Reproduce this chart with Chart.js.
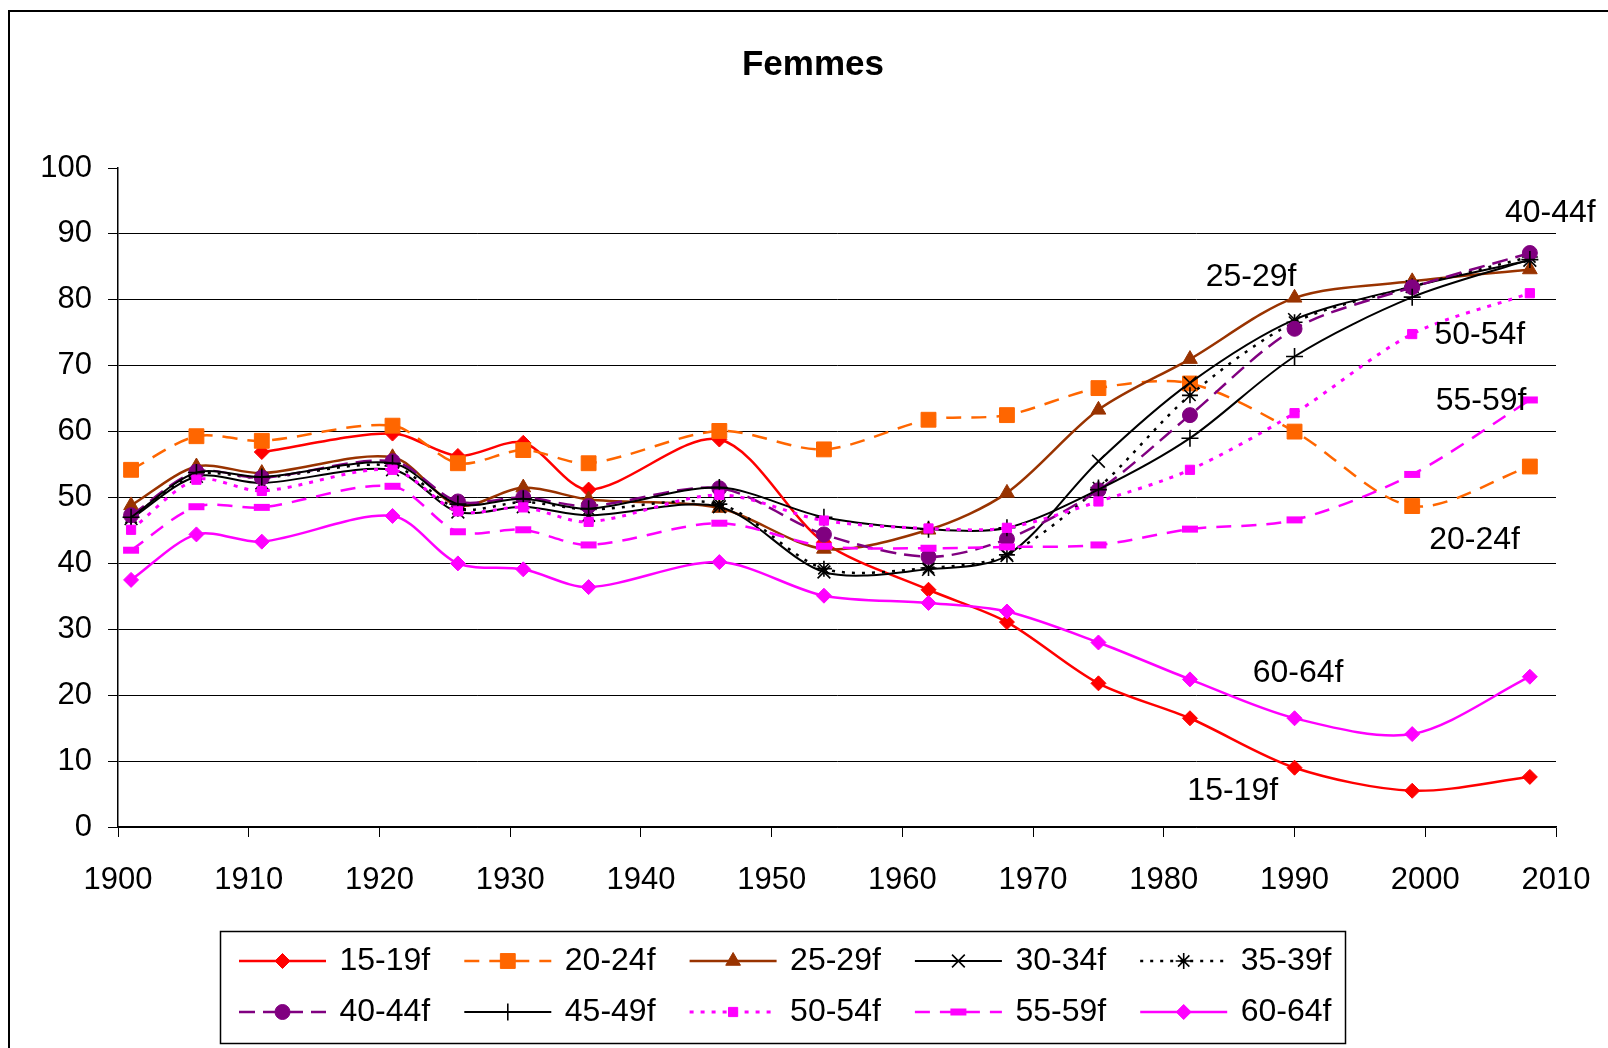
<!DOCTYPE html>
<html>
<head>
<meta charset="utf-8">
<script src="https://cdn.jsdelivr.net/npm/chart.js@4/dist/chart.umd.min.js"></script>
<style>
html,body{margin:0;padding:0;background:#fff;}
#wrap{position:relative;width:1608px;height:1048px;overflow:hidden;}
canvas{display:block;}
</style>
</head>
<body>
<div id="wrap"><canvas id="c" width="1608" height="1048"></canvas></div>
<script>
// ---- data ----
const years = [1901,1906,1911,1921,1926,1931,1936,1946,1954,1962,1968,1975,1982,1990,1999,2008];
const seriesNames = ['15-19f','20-24f','25-29f','30-34f','35-39f','40-44f','45-49f','50-54f','55-59f','60-64f'];
const f15_19 = [null,null,56.9,59.7,56.3,58.3,51.2,58.8,43.2,36.0,31.1,21.8,16.5,9.0,5.5,7.6];
const f20_24 = [54.2,59.3,58.6,60.9,55.2,57.2,55.2,60.1,57.3,61.8,62.5,66.6,67.3,60.0,48.7,54.7];
const f25_29 = [48.8,54.7,53.7,56.1,48.8,51.5,49.7,48.4,42.2,45.1,50.7,63.3,71.0,80.3,82.8,84.6];
const f30_34 = [46.8,53.2,52.2,54.2,47.8,48.6,47.3,48.6,38.7,39.1,41.2,55.5,67.4,77.0,82.0,86.0];
const f35_39 = [47.0,53.5,53.0,54.8,48.3,49.3,48.2,49.0,39.2,39.3,41.3,51.5,65.5,76.6,82.0,86.5];
const f40_44 = [47.3,53.9,53.0,55.5,49.4,50.0,48.7,51.4,44.4,41.0,43.7,51.1,62.5,75.6,81.9,87.1];
const f45_49 = [47.0,53.8,53.1,55.2,49.0,49.8,48.3,51.5,47.0,45.2,45.4,51.2,59.0,71.4,80.4,86.1];
const f50_54 = [45.1,52.7,51.0,54.2,47.9,48.5,46.3,50.4,46.5,45.3,45.4,49.4,54.2,62.8,74.8,81.0];
const f55_59 = [42.0,48.6,48.5,51.7,44.8,45.1,42.8,46.1,42.6,42.3,42.5,42.8,45.2,46.6,53.5,64.8];
const f60_64 = [37.5,44.4,43.3,47.2,40.0,39.1,36.4,40.2,35.1,34.0,32.7,28.0,22.4,16.5,14.1,22.8];
const xTickValues = [1900,1910,1920,1930,1940,1950,1960,1970,1980,1990,2000,2010];
const yTickValues = [0,10,20,30,40,50,60,70,80,90,100];
const titleText = 'Femmes';

// ---- styles ----
const FONT = '"Liberation Sans", Arial, sans-serif';
const styles = [
  {color:'#FF0000', width:2.5, dash:[], point:'rectRot', r:7.5, pbw:1, fill:'#FF0000'},
  {color:'#FF6600', width:2.5, dash:[15,10], point:'rect', r:10.5, pbw:1, fill:'#FF6600'},
  {color:'#993300', width:2.5, dash:[], point:'triangle', r:8.5, pbw:1, fill:'#993300'},
  {color:'#000000', width:2, dash:[], point:'crossRot', r:9, pbw:1.6, fill:'#000000'},
  {color:'#000000', width:2.5, dash:[3,7], point:'star', r:8, pbw:1.6, fill:'#000000'},
  {color:'#800080', width:2.5, dash:[16,8], point:'circle', r:7.5, pbw:1, fill:'#800080'},
  {color:'#000000', width:2, dash:[], point:'cross', r:8.5, pbw:1.6, fill:'#000000'},
  {color:'#FF00FF', width:3, dash:[4,7], point:'rect', r:6.5, pbw:1, fill:'#FF00FF'},
  {color:'#FF00FF', width:2.5, dash:[15,10], point:'line', r:8, pbw:7, fill:'#FF00FF'},
  {color:'#FF00FF', width:2.5, dash:[], point:'rectRot', r:7.5, pbw:1, fill:'#FF00FF'}
];
const seriesValues = [f15_19,f20_24,f25_29,f30_34,f35_39,f40_44,f45_49,f50_54,f55_59,f60_64];

const datasets = seriesNames.map((name, i) => {
  const s = styles[i];
  return {
    label: name,
    data: years.map((yr, k) => ({x: yr, y: seriesValues[i][k]})),
    borderColor: s.color,
    backgroundColor: s.fill,
    borderWidth: s.width,
    borderDash: s.dash,
    pointStyle: s.point,
    pointRadius: s.r,
    pointBorderWidth: s.pbw,
    pointBorderColor: s.color,
    pointBackgroundColor: s.fill,
    tension: 0.3,
    spanGaps: false,
    order: -i,
    fill: false
  };
});

// in-plot series labels, anchored in data units (left edge, vertical centre)
const inPlotLabels = [
  {text:'40-44f', x:2006.1, y:93.2},
  {text:'25-29f', x:1983.2, y:83.5},
  {text:'50-54f', x:2000.7, y:74.6},
  {text:'55-59f', x:2000.8, y:64.6},
  {text:'20-24f', x:2000.3, y:43.6},
  {text:'60-64f', x:1986.8, y:23.4},
  {text:'15-19f', x:1981.8, y:5.45}
];

const decorPlugin = {
  id: 'decor',
  afterDraw(chart) {
    const ctx = chart.ctx;
    const xs = chart.scales.x, ys = chart.scales.y;
    ctx.save();
    // outer frame
    ctx.strokeStyle = '#000'; ctx.lineWidth = 2; ctx.setLineDash([]);
    ctx.strokeRect(9, 11, 1800, 1200);
    // title
    ctx.fillStyle = '#000';
    ctx.font = 'bold 35px ' + FONT;
    ctx.textAlign = 'center'; ctx.textBaseline = 'middle';
    ctx.fillText(titleText, 813, 65);
    // in-plot labels
    ctx.font = '32px ' + FONT;
    ctx.textAlign = 'left';
    inPlotLabels.forEach(l => {
      ctx.fillText(l.text, xs.getPixelForValue(l.x), ys.getPixelForValue(l.y));
    });
    // legend
    const bx = 220, by = 931, bw = 1125, bh = 112;
    ctx.fillStyle = '#fff';
    ctx.fillRect(bx, by, bw, bh);
    ctx.strokeStyle = '#000'; ctx.lineWidth = 1.5;
    ctx.strokeRect(bx + 0.5, by + 0.5, bw, bh);
    chart.data.datasets.forEach((ds, i) => {
      const col = i % 5, row = Math.floor(i / 5);
      const x0 = 239 + col * 225.3;
      const yc = row === 0 ? 961 : 1012;
      ctx.save();
      ctx.strokeStyle = ds.borderColor; ctx.lineWidth = ds.borderWidth;
      ctx.setLineDash(ds.borderDash);
      ctx.beginPath(); ctx.moveTo(x0, yc); ctx.lineTo(x0 + 87, yc); ctx.stroke();
      ctx.setLineDash([]);
      ctx.fillStyle = ds.pointBackgroundColor; ctx.strokeStyle = ds.pointBorderColor;
      ctx.lineWidth = ds.pointBorderWidth;
      Chart.helpers.drawPoint(ctx, {pointStyle: ds.pointStyle, radius: ds.pointRadius, borderWidth: ds.pointBorderWidth, rotation: 0}, x0 + 43.5, yc);
      ctx.restore();
      ctx.fillStyle = '#000';
      ctx.font = '32px ' + FONT;
      ctx.textAlign = 'left'; ctx.textBaseline = 'middle';
      ctx.fillText(ds.label, x0 + 100.5, yc);
    });
    ctx.restore();
  }
};

new Chart(document.getElementById('c'), {
  type: 'line',
  data: { datasets },
  options: {
    responsive: false,
    devicePixelRatio: 1,
    animation: false,
    layout: { padding: { top: 168, right: 52, left: 0, bottom: 0 } },
    plugins: { legend: { display: false }, title: { display: false }, tooltip: { enabled: false } },
    scales: {
      x: {
        type: 'linear', min: 1900, max: 2010,
        afterBuildTicks(scale) { scale.ticks = xTickValues.map(v => ({value: v})); },
        afterFit(scale) { scale.height = 221; scale.paddingLeft = 0; scale.paddingRight = 0; },
        ticks: { color: '#000', font: { family: FONT, size: 31 }, padding: 25, maxRotation: 0, autoSkip: false,
                 callback: v => String(v) },
        grid: { drawOnChartArea: false, drawTicks: true, tickLength: 10, tickColor: '#000', tickWidth: 1 },
        border: { display: true, color: '#000', width: 1.5 }
      },
      y: {
        type: 'linear', min: 0, max: 100,
        afterBuildTicks(scale) { scale.ticks = yTickValues.map(v => ({value: v})); },
        afterFit(scale) { scale.width = 118; scale.paddingTop = 0; scale.paddingBottom = 0; },
        ticks: { color: '#000', font: { family: FONT, size: 31 }, padding: 16, autoSkip: false },
        grid: { color: ctx => (ctx.tick && ctx.tick.value === 100) ? 'rgba(0,0,0,0)' : '#000',
                lineWidth: 1, drawTicks: true, tickLength: 10, tickColor: '#000', tickWidth: 1 },
        border: { display: true, color: '#000', width: 1.5 }
      }
    }
  },
  plugins: [decorPlugin]
});
</script>
</body>
</html>
